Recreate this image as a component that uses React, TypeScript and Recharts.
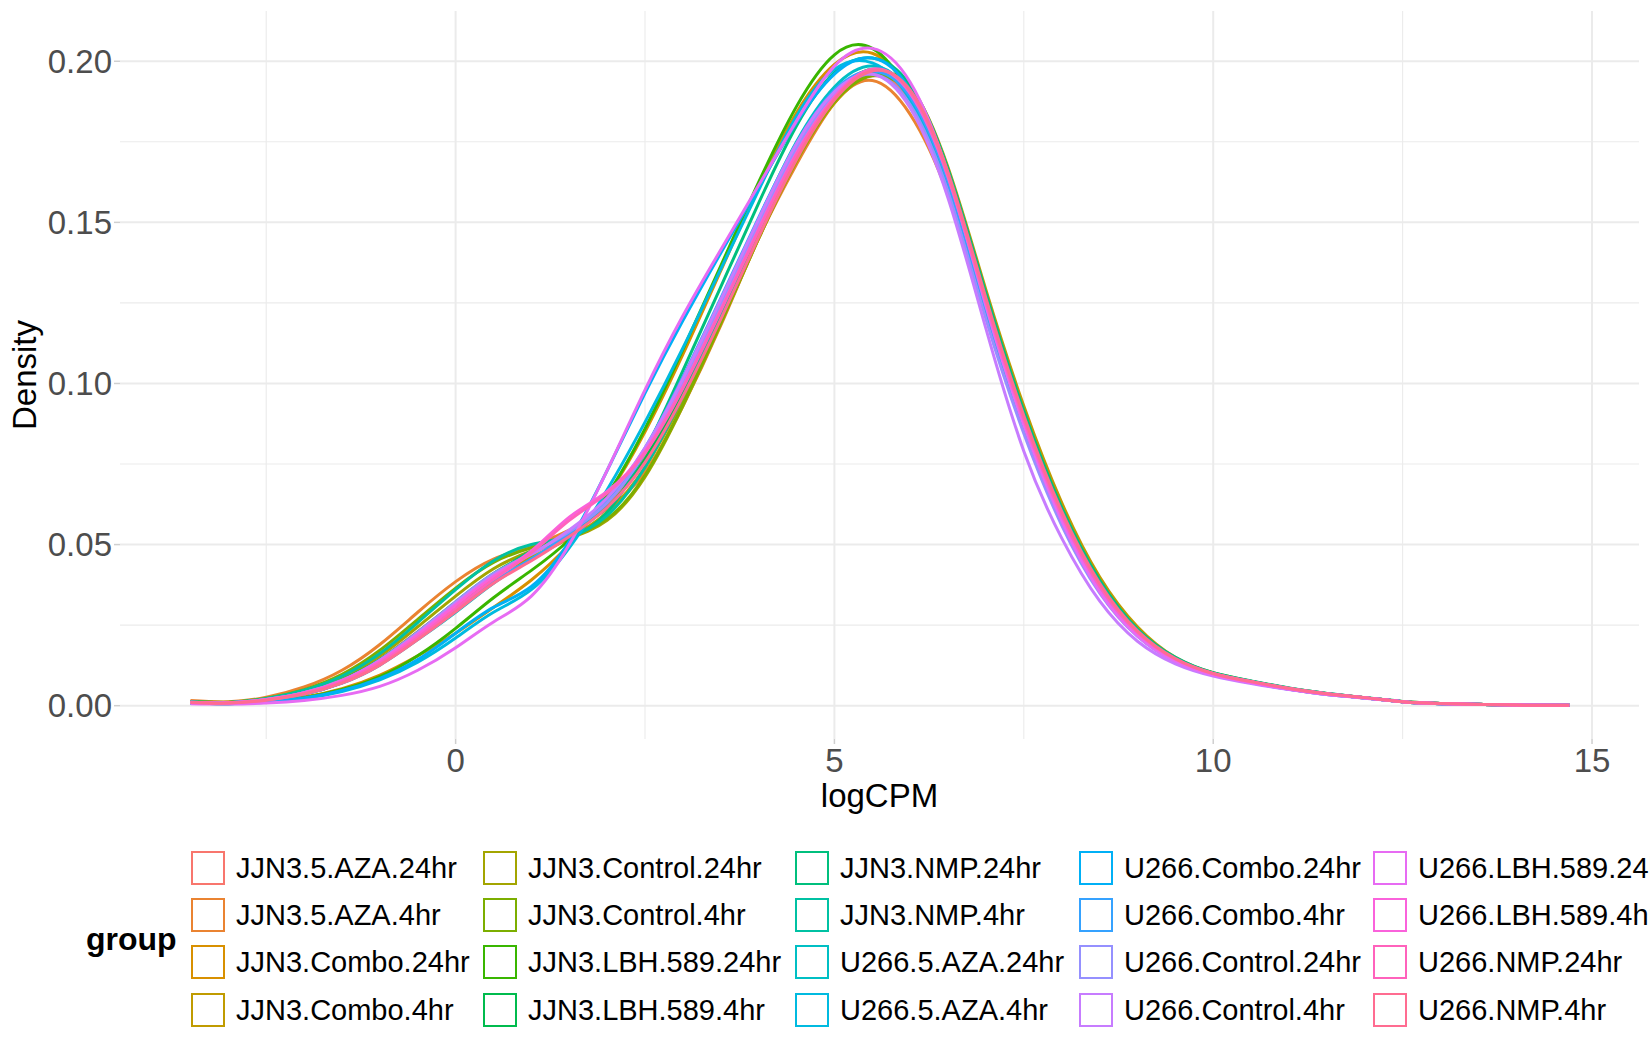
import React from 'react';
import { LineChart, Line, XAxis, YAxis, CartesianGrid, Label } from 'recharts';

// logCPM grid at which the density curves were read
const X_GRID = [-3.5, -3, -2.5, -2, -1.5, -1, -0.5, 0, 0.5, 1, 1.5, 2, 2.5, 3, 3.5, 4, 4.5, 5, 5.5, 6, 6.5, 7, 7.5, 8, 8.5, 9, 9.5, 10, 10.5, 11, 11.5, 12, 12.5, 13, 14, 14.7];

const GROUP_NAMES = [
  'JJN3.5.AZA.24hr', 'JJN3.5.AZA.4hr', 'JJN3.Combo.24hr', 'JJN3.Combo.4hr',
  'JJN3.Control.24hr', 'JJN3.Control.4hr', 'JJN3.LBH.589.24hr', 'JJN3.LBH.589.4hr',
  'JJN3.NMP.24hr', 'JJN3.NMP.4hr', 'U266.5.AZA.24hr', 'U266.5.AZA.4hr',
  'U266.Combo.24hr', 'U266.Combo.4hr', 'U266.Control.24hr', 'U266.Control.4hr',
  'U266.LBH.589.24hr', 'U266.LBH.589.4hr', 'U266.NMP.24hr', 'U266.NMP.4hr',
];

const GROUP_COLORS = [
  '#F8766D', '#EA8331', '#D89000', '#C09B00', '#A3A500', '#7CAE00', '#39B600', '#00BB4E',
  '#00BF7D', '#00C1A3', '#00BFC4', '#00BAE0', '#00B0F6', '#35A2FF', '#9590FF', '#C77CFF',
  '#E76BF3', '#FA62DB', '#FF62BC', '#FF6C91',
];

const JJN3_5_AZA_24hr = [.0012, .0009, .0020, .0042, .0082, .0145, .0230, .0320, .0405, .0470, .0535, .0625, .0770, .0975, .1210, .1465, .1700, .1880, .1955, .1880, .1625, .1235, .0880, .0590, .0368, .0225, .0143, .0099, .0074, .0053, .0037, .0025, .0012, .0007, .0002, .0001];
const JJN3_5_AZA_4hr = [.0016, .0012, .0026, .0058, .0110, .0190, .0290, .0385, .0455, .0495, .0545, .0610, .0725, .0930, .1180, .1450, .1680, .1870, .1940, .1835, .1585, .1215, .0870, .0585, .0368, .0226, .0143, .0098, .0073, .0052, .0036, .0024, .0012, .0006, .0002, .0001];
const JJN3_Combo_24hr = [.0009, .0007, .0013, .0027, .0053, .0095, .0155, .0225, .0305, .0390, .0500, .0650, .0850, .1090, .1350, .1610, .1840, .1990, .2025, .1905, .1625, .1230, .0875, .0585, .0362, .0222, .0141, .0097, .0072, .0052, .0036, .0024, .0012, .0006, .0002, .0001];
const JJN3_Combo_4hr = [.0011, .0009, .0019, .0040, .0078, .0140, .0225, .0318, .0400, .0460, .0520, .0600, .0740, .0950, .1190, .1450, .1690, .1870, .1960, .1920, .1670, .1290, .0930, .0630, .0400, .0245, .0150, .0102, .0076, .0054, .0038, .0025, .0013, .0007, .0002, .0001];
const JJN3_Control_24hr = [.0012, .0010, .0021, .0045, .0088, .0155, .0245, .0340, .0425, .0480, .0520, .0575, .0710, .0930, .1185, .1450, .1690, .1875, .1960, .1905, .1655, .1270, .0910, .0615, .0390, .0238, .0148, .0101, .0075, .0053, .0037, .0025, .0012, .0007, .0002, .0001];
const JJN3_Control_4hr = [.0013, .0011, .0023, .0050, .0097, .0172, .0268, .0365, .0445, .0490, .0525, .0580, .0715, .0935, .1190, .1455, .1695, .1875, .1955, .1895, .1645, .1260, .0900, .0605, .0382, .0233, .0146, .0100, .0074, .0053, .0037, .0025, .0012, .0007, .0002, .0001];
const JJN3_LBH_589_24hr = [.0008, .0006, .0012, .0025, .0050, .0090, .0155, .0240, .0335, .0420, .0515, .0655, .0860, .1105, .1365, .1625, .1860, .2020, .2040, .1895, .1610, .1215, .0860, .0575, .0358, .0220, .0140, .0097, .0072, .0052, .0036, .0024, .0012, .0006, .0002, .0001];
const JJN3_LBH_589_4hr = [.0011, .0009, .0019, .0041, .0080, .0143, .0228, .0322, .0410, .0475, .0535, .0615, .0765, .0975, .1215, .1470, .1710, .1895, .1975, .1905, .1645, .1255, .0895, .0600, .0378, .0231, .0146, .0100, .0074, .0053, .0037, .0025, .0012, .0007, .0002, .0001];
const JJN3_NMP_24hr = [.0010, .0008, .0017, .0036, .0072, .0130, .0210, .0300, .0400, .0480, .0520, .0600, .0790, .1040, .1300, .1560, .1800, .1965, .2010, .1925, .1665, .1280, .0915, .0615, .0390, .0238, .0150, .0102, .0077, .0055, .0038, .0025, .0013, .0007, .0002, .0001];
const JJN3_NMP_4hr = [.0012, .0010, .0022, .0048, .0092, .0162, .0258, .0360, .0450, .0500, .0525, .0590, .0740, .0960, .1210, .1470, .1710, .1890, .1965, .1900, .1645, .1260, .0900, .0605, .0383, .0234, .0148, .0101, .0076, .0054, .0038, .0025, .0012, .0007, .0002, .0001];
const U266_5_AZA_24hr = [.0010, .0008, .0017, .0036, .0070, .0126, .0205, .0290, .0380, .0455, .0530, .0630, .0790, .1010, .1255, .1510, .1750, .1920, .1985, .1900, .1635, .1245, .0885, .0592, .0372, .0228, .0144, .0099, .0074, .0053, .0037, .0025, .0012, .0007, .0002, .0001];
const U266_5_AZA_4hr = [.0008, .0006, .0011, .0022, .0044, .0080, .0135, .0210, .0290, .0360, .0490, .0670, .0880, .1110, .1355, .1600, .1830, .1975, .1995, .1880, .1600, .1210, .0855, .0570, .0355, .0218, .0139, .0096, .0071, .0051, .0035, .0024, .0012, .0006, .0002, .0001];
const U266_Combo_24hr = [.0008, .0006, .0012, .0024, .0047, .0085, .0143, .0225, .0305, .0370, .0510, .0730, .0970, .1195, .1405, .1610, .1810, .1960, .2010, .1910, .1630, .1235, .0875, .0582, .0362, .0222, .0141, .0097, .0072, .0052, .0036, .0024, .0012, .0006, .0002, .0001];
const U266_Combo_4hr = [.0010, .0008, .0017, .0036, .0071, .0128, .0208, .0295, .0385, .0455, .0535, .0640, .0800, .1020, .1265, .1515, .1745, .1910, .1970, .1890, .1625, .1235, .0875, .0585, .0368, .0226, .0143, .0098, .0073, .0052, .0036, .0024, .0012, .0006, .0002, .0001];
const U266_Control_24hr = [.0011, .0009, .0019, .0040, .0079, .0142, .0228, .0322, .0410, .0472, .0540, .0630, .0785, .1000, .1245, .1495, .1730, .1895, .1960, .1865, .1595, .1200, .0845, .0560, .0350, .0215, .0137, .0095, .0071, .0051, .0035, .0024, .0012, .0006, .0002, .0001];
const U266_Control_4hr = [.0011, .0009, .0019, .0040, .0078, .0140, .0224, .0318, .0405, .0470, .0545, .0645, .0800, .1015, .1260, .1510, .1745, .1905, .1960, .1855, .1575, .1170, .0790, .0520, .0325, .0200, .0130, .0092, .0069, .0050, .0035, .0023, .0012, .0006, .0002, .0001];
const U266_LBH_589_24hr = [.0006, .0005, .0008, .0016, .0032, .0060, .0110, .0180, .0260, .0340, .0500, .0730, .0980, .1210, .1415, .1615, .1815, .1985, .2040, .1935, .1650, .1240, .0870, .0575, .0355, .0217, .0138, .0095, .0071, .0051, .0035, .0024, .0012, .0006, .0002, .0001];
const U266_LBH_589_4hr = [.0011, .0009, .0019, .0040, .0078, .0138, .0220, .0312, .0400, .0480, .0585, .0665, .0790, .0990, .1230, .1480, .1715, .1890, .1975, .1900, .1640, .1250, .0885, .0590, .0370, .0227, .0144, .0099, .0074, .0053, .0037, .0025, .0012, .0007, .0002, .0001];
const U266_NMP_24hr = [.0010, .0008, .0018, .0038, .0074, .0132, .0212, .0302, .0392, .0475, .0575, .0660, .0785, .0985, .1225, .1475, .1710, .1885, .1975, .1905, .1645, .1255, .0890, .0593, .0372, .0228, .0145, .0100, .0074, .0053, .0037, .0025, .0012, .0007, .0002, .0001];
const U266_NMP_4hr = [.0010, .0008, .0017, .0036, .0070, .0126, .0205, .0292, .0380, .0450, .0525, .0615, .0755, .0960, .1200, .1455, .1695, .1880, .1970, .1910, .1655, .1265, .0900, .0603, .0380, .0232, .0146, .0100, .0075, .0054, .0037, .0025, .0012, .0007, .0002, .0001];

const SERIES_VALUES = [
  JJN3_5_AZA_24hr, JJN3_5_AZA_4hr, JJN3_Combo_24hr, JJN3_Combo_4hr,
  JJN3_Control_24hr, JJN3_Control_4hr, JJN3_LBH_589_24hr, JJN3_LBH_589_4hr,
  JJN3_NMP_24hr, JJN3_NMP_4hr, U266_5_AZA_24hr, U266_5_AZA_4hr,
  U266_Combo_24hr, U266_Combo_4hr, U266_Control_24hr, U266_Control_4hr,
  U266_LBH_589_24hr, U266_LBH_589_4hr, U266_NMP_24hr, U266_NMP_4hr,
];

const X_TICKS = [0, 5, 10, 15];
const X_MINOR = [-2.5, 2.5, 7.5, 12.5];
const Y_TICKS = [0, 0.05, 0.1, 0.15, 0.2];
const Y_MINOR = [0.025, 0.075, 0.125, 0.175];
const X_DOMAIN = [-4.43, 15.62];
const Y_DOMAIN = [-0.01034, 0.2156];

const rows = X_GRID.map((x, i) => {
  const row: Record<string, number> = { x };
  SERIES_VALUES.forEach((vals, k) => {
    row['s' + k] = vals[i];
  });
  return row;
});

const FONT = '"Liberation Sans", Arial, Helvetica, sans-serif';

// legend layout
const LEGEND_COL_X = [191, 483, 795, 1079, 1373];
const LEGEND_ROW_CENTER = [868, 915, 962, 1009.5];
const KEY = 34;

const YTitle = (props: any) => {
  const vb = props.viewBox || { x: 0, y: 11, width: 120, height: 728 };
  const cx = vb.x + 36;
  const cy = vb.y + vb.height / 2;
  return (
    <text
      transform={`translate(${cx},${cy}) rotate(-90)`}
      textAnchor="middle"
      fontSize={33}
      fontFamily={FONT}
      fill="#000"
    >
      Density
    </text>
  );
};

export default function App() {
  return (
    <div
      style={{
        position: 'absolute',
        left: 0,
        top: 0,
        width: 1650,
        height: 1050,
        background: '#fff',
        overflow: 'hidden',
        fontFamily: FONT,
      }}
    >
      <LineChart
        width={1650}
        height={1050}
        data={rows}
        margin={{ top: 11, right: 11, bottom: 241, left: 0 }}
      >
        <CartesianGrid
          verticalValues={X_MINOR}
          horizontalValues={Y_MINOR}
          stroke="#EBEBEB"
          strokeWidth={1.1}
        />
        <CartesianGrid
          verticalValues={X_TICKS}
          horizontalValues={Y_TICKS}
          stroke="#EBEBEB"
          strokeWidth={2}
        />
        <XAxis
          dataKey="x"
          type="number"
          domain={X_DOMAIN}
          ticks={X_TICKS}
          allowDataOverflow
          axisLine={false}
          tickLine={{ stroke: '#CFCFCF', strokeWidth: 1.5 }}
          tickSize={5}
          tickMargin={5}
          height={70}
          tick={{ fontSize: 33, fill: '#4D4D4D', fontFamily: FONT }}
        >
          <Label
            value="logCPM"
            position="insideBottom"
            offset={2}
            style={{ fontSize: 33, fill: '#000', fontFamily: FONT }}
          />
        </XAxis>
        <YAxis
          type="number"
          domain={Y_DOMAIN}
          ticks={Y_TICKS}
          allowDataOverflow
          axisLine={false}
          tickLine={{ stroke: '#CFCFCF', strokeWidth: 1.5 }}
          tickSize={6}
          tickMargin={2}
          width={120}
          tickFormatter={(v: number) => v.toFixed(2)}
          tick={{ fontSize: 33, fill: '#4D4D4D', fontFamily: FONT }}
        >
          <Label content={YTitle} />
        </YAxis>
        {GROUP_NAMES.map((name, k) => (
          <Line
            key={name}
            name={name}
            dataKey={'s' + k}
            type="natural"
            stroke={GROUP_COLORS[k]}
            strokeWidth={3}
            dot={false}
            activeDot={false}
            isAnimationActive={false}
          />
        ))}
      </LineChart>

      <div
        style={{
          position: 'absolute',
          left: 86,
          top: (LEGEND_ROW_CENTER[0] + LEGEND_ROW_CENTER[3]) / 2 - 20,
          height: 40,
          lineHeight: '40px',
          fontSize: 32,
          fontWeight: 'bold',
          color: '#000',
        }}
      >
        group
      </div>
      {GROUP_NAMES.map((name, k) => {
        const col = Math.floor(k / 4);
        const row = k % 4;
        const cy = LEGEND_ROW_CENTER[row];
        return (
          <React.Fragment key={name}>
            <div
              style={{
                position: 'absolute',
                left: LEGEND_COL_X[col],
                top: cy - KEY / 2,
                width: KEY,
                height: KEY,
                boxSizing: 'border-box',
                border: `2.5px solid ${GROUP_COLORS[k]}`,
                background: '#fff',
              }}
            />
            <div
              style={{
                position: 'absolute',
                left: LEGEND_COL_X[col] + 45,
                top: cy - 20,
                height: 40,
                lineHeight: '40px',
                fontSize: 29,
                color: '#000',
                whiteSpace: 'nowrap',
              }}
            >
              {name}
            </div>
          </React.Fragment>
        );
      })}
    </div>
  );
}
